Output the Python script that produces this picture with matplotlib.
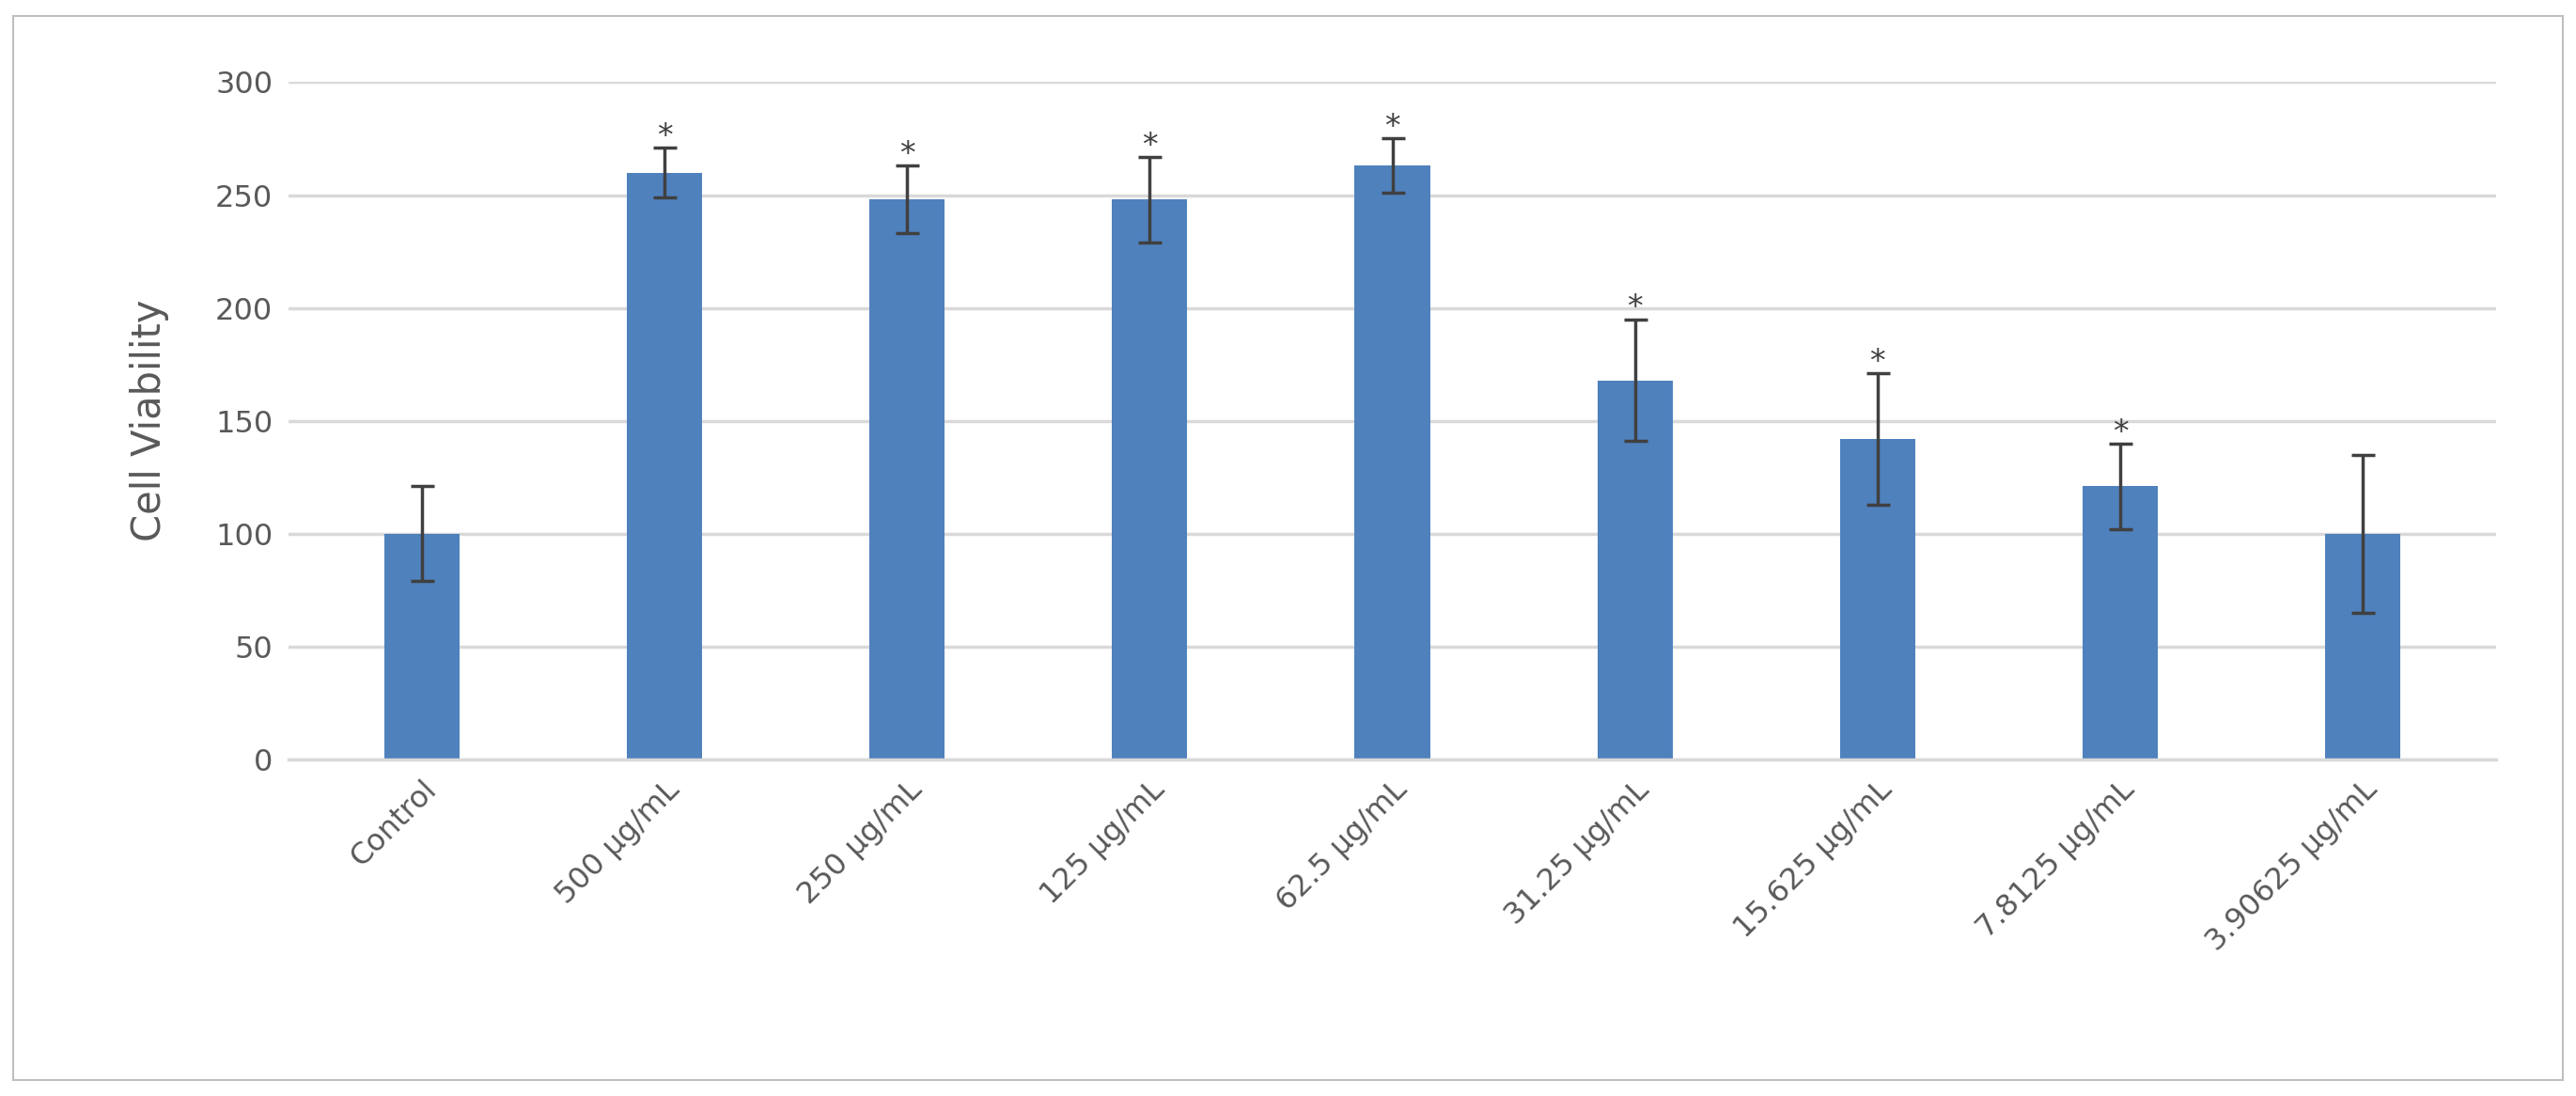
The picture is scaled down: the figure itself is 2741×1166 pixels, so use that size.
import numpy as np
import matplotlib.pyplot as plt
from matplotlib.patches import Rectangle

labels = ["Control", "500 µg/mL", "250 µg/mL", "125 µg/mL", "62.5 µg/mL",
          "31.25 µg/mL", "15.625 µg/mL", "7.8125 µg/mL", "3.90625 µg/mL"]
viability = [100, 260, 248, 248, 263, 168, 142, 121, 100]
errors = [21, 11, 15, 19, 12, 27, 29, 19, 35]
significant = [False, True, True, True, True, True, True, True, False]

grey = "#595959"
fig = plt.figure(figsize=(27.41, 11.66), dpi=100)
fig.patches.append(Rectangle((0.005, 0.015), 0.99, 0.97, transform=fig.transFigure,
                             fill=False, edgecolor="#bfbfbf", lw=1.5))
ax = fig.add_axes([0.112, 0.307, 0.857, 0.618])

x = np.arange(len(labels))
ax.bar(x, viability, width=0.31, color="#4f81bd", zorder=2)
ax.errorbar(x, viability, yerr=errors, fmt="none", ecolor="#404040",
            elinewidth=2.5, capsize=9, capthick=2.5, zorder=3)
for xi, v, e, s in zip(x, viability, errors, significant):
    if s:
        ax.text(xi, v + e - 2, "*", ha="center", va="bottom", fontsize=24, color="#404040")

ax.set_xlim(-0.55, len(labels) - 0.45)
ax.set_ylim(0, 300)
ax.set_yticks(range(0, 301, 50))
ax.grid(axis="y", color="#d9d9d9", lw=2.5, zorder=0)
ax.set_axisbelow(True)
for side in ["top", "right", "left"]:
    ax.spines[side].set_visible(False)
ax.spines["bottom"].set_color("#d9d9d9")
ax.spines["bottom"].set_linewidth(2.5)
ax.tick_params(length=0, labelsize=23, colors=grey, pad=12)
ax.set_xticks(x)
ax.set_xticklabels(labels, rotation=45, ha="right", rotation_mode="anchor")
ax.set_ylabel("Cell Viability", fontsize=30, color=grey, labelpad=35)

fig.savefig("out.png", dpi=100)
